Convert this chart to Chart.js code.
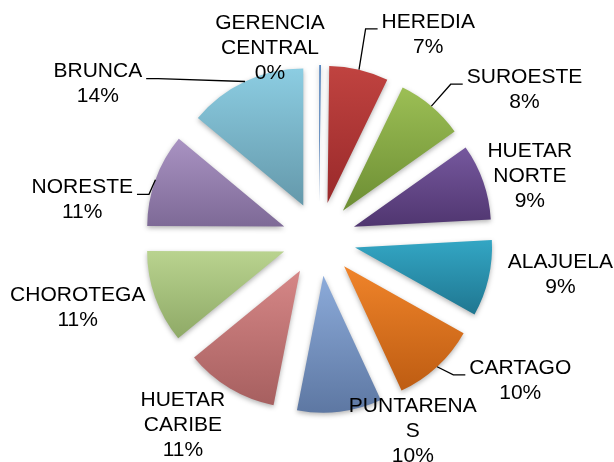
<!DOCTYPE html>
<html>
<head>
<meta charset="utf-8">
<script src="https://cdn.jsdelivr.net/npm/chart.js@4.4.1/dist/chart.umd.min.js"></script>
<style>
  body { margin: 0; background: #fff; }
  #wrap { width: 614px; height: 462px; }
</style>
</head>
<body>
<div id="wrap"><canvas id="pie" width="614" height="462"></canvas></div>
<script>
const regions = ['GERENCIA CENTRAL', 'HEREDIA', 'SUROESTE', 'HUETAR NORTE', 'ALAJUELA', 'CARTAGO',
  'PUNTARENAS', 'HUETAR CARIBE', 'CHOROTEGA', 'NORESTE', 'BRUNCA'];
const shares = [0.2, 7, 8, 9, 9, 10, 10, 11, 11, 11, 14];

// how the label text wraps in the original
const labelLines = [['GERENCIA', 'CENTRAL'], ['HEREDIA'], ['SUROESTE'], ['HUETAR', 'NORTE'], ['ALAJUELA'],
  ['CARTAGO'], ['PUNTARENA', 'S'], ['HUETAR', 'CARIBE'], ['CHOROTEGA'], ['NORESTE'], ['BRUNCA']];

const topColors = ['#4f81bd', '#c04340', '#9cbf55', '#76589e', '#33a6c4', '#f0842a',
  '#8cabda', '#d68787', '#b9d38f', '#a993c2', '#8ccde2'];
const bottomColors = ['#3f6ea8', '#99292a', '#6c8d33', '#4f356f', '#1f7690', '#bd5c12',
  '#5d77a2', '#a65f5f', '#8ea966', '#7d6996', '#6498aa'];

const hasLeader = [false, true, true, false, false, true, false, false, false, true, true];
// label block centre: angle (deg, clockwise from top) and distance from the pie centre
const labelPlace = [[345.6, 197], [28.1, 232], [54.0, 254], [73.4, 220], [98.4, 244], [125.1, 246],
  [154.0, 214], [216.1, 231], [254.0, 251], [279.4, 240], [305.0, 270]];

const EXPLODE = 37;
const LINE = 25;

const explodedPie = {
  id: 'explodedPie',
  beforeDatasetsDraw(chart) {
    const ctx = chart.ctx;
    chart.getDatasetMeta(0).data.forEach((arc, i) => {
      const mid = (arc.startAngle + arc.endAngle) / 2;
      const dx = Math.cos(mid) * EXPLODE, dy = Math.sin(mid) * EXPLODE;
      let top = arc.y, bottom = arc.y;
      for (let k = 0; k <= 40; k++) {
        const a = arc.startAngle + (arc.endAngle - arc.startAngle) * k / 40;
        const py = arc.y + Math.sin(a) * arc.outerRadius;
        top = Math.min(top, py);
        bottom = Math.max(bottom, py);
      }
      const grad = ctx.createLinearGradient(0, top, 0, bottom + 1);
      grad.addColorStop(0, topColors[i]);
      grad.addColorStop(1, bottomColors[i]);
      const base = arc.options;
      arc.options = Object.assign({}, base, { backgroundColor: grad });
      ctx.save();
      ctx.translate(dx, dy);
      ctx.shadowColor = 'rgba(0,0,0,0.3)';
      ctx.shadowBlur = 5;
      ctx.shadowOffsetY = 2;
      arc.draw(ctx);
      ctx.restore();
      arc.options = base;
    });
    return false;
  },
  // returning false above skips afterDatasetsDraw, so labels go here
  afterDraw(chart) {
    const ctx = chart.ctx;
    ctx.save();
    ctx.font = '21px "Liberation Sans", Arial, sans-serif';
    ctx.fillStyle = '#000';
    ctx.strokeStyle = '#000';
    ctx.lineWidth = 1.3;
    ctx.textAlign = 'center';
    ctx.textBaseline = 'middle';
    chart.getDatasetMeta(0).data.forEach((arc, i) => {
      const lines = labelLines[i].concat(Math.round(shares[i]) + '%');
      const a = labelPlace[i][0] * Math.PI / 180;
      const lx = arc.x + Math.sin(a) * labelPlace[i][1];
      const ly = arc.y - Math.cos(a) * labelPlace[i][1];
      const y0 = ly - (lines.length - 1) * LINE / 2;
      lines.forEach((t, k) => ctx.fillText(t, lx, y0 + k * LINE));
      if (hasLeader[i]) {
        const mid = (arc.startAngle + arc.endAngle) / 2;
        const r = arc.outerRadius + EXPLODE;
        const px = arc.x + Math.cos(mid) * r, py = arc.y + Math.sin(mid) * r;
        const w = Math.max(...lines.map(t => ctx.measureText(t).width));
        const side = lx > px ? -1 : 1;
        const ex = lx + side * (w / 2 + 4), ey = y0 + 7;
        ctx.beginPath();
        ctx.moveTo(px, py);
        ctx.lineTo(ex + side * 12, ey);
        ctx.lineTo(ex, ey);
        ctx.stroke();
      }
    });
    ctx.restore();
  }
};

new Chart(document.getElementById('pie'), {
  type: 'pie',
  data: {
    labels: regions,
    datasets: [{
      data: shares,
      backgroundColor: topColors,
      borderWidth: 0,
      radius: 137
    }]
  },
  options: {
    responsive: false,
    animation: false,
    layout: { padding: { left: 24, top: 16, right: 0, bottom: 0 } },
    plugins: { legend: { display: false }, tooltip: { enabled: false } }
  },
  plugins: [explodedPie]
});
</script>
</body>
</html>
